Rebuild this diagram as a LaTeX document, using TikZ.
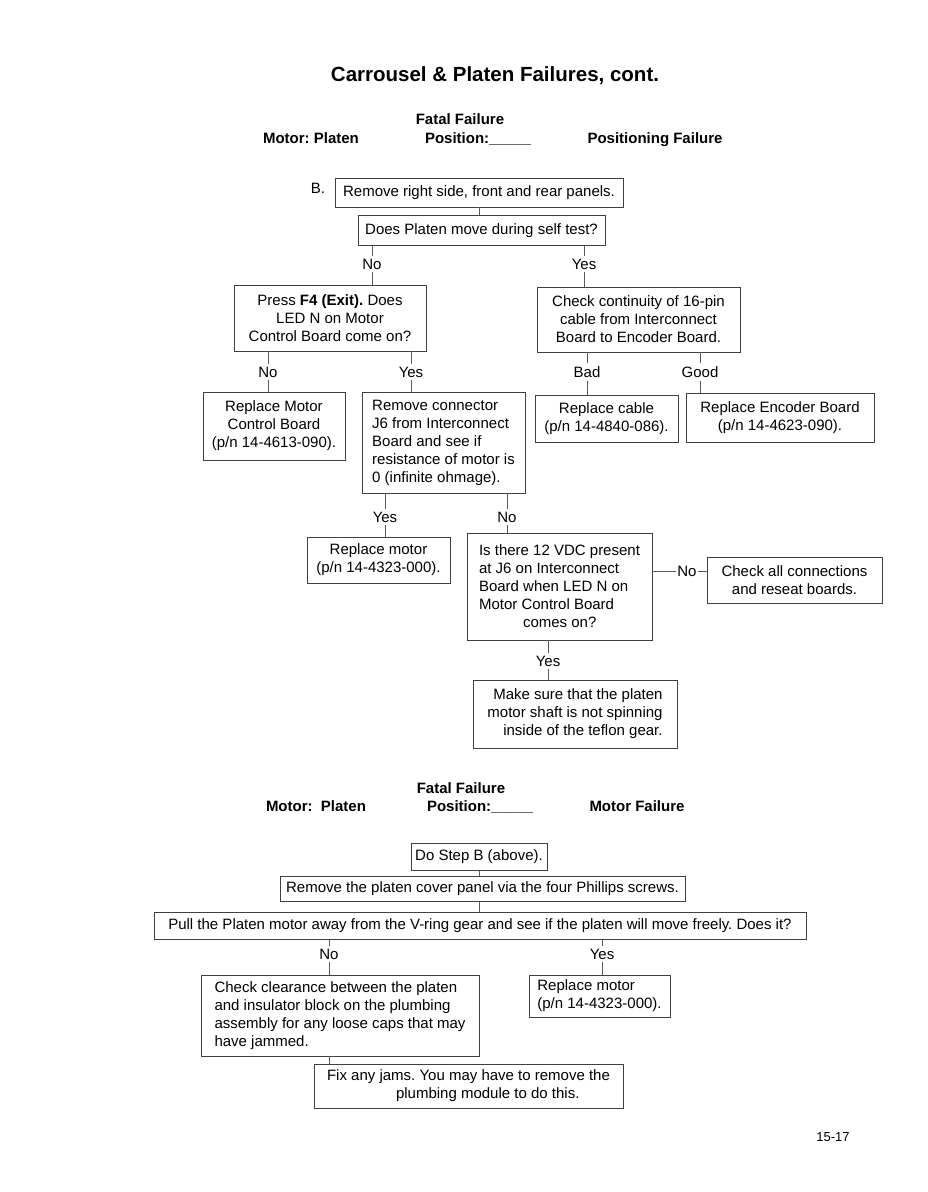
\documentclass[tikz,border=0pt]{standalone}
\usepackage{fontspec}
\setmainfont{Liberation Sans}
\frenchspacing
\begin{document}
\begin{tikzpicture}[x=1pt,y=-1pt,
  font=\fontsize{15}{18}\selectfont,
  box/.style={draw=black!75, line width=0.6pt, inner sep=0pt},
  lab/.style={inner sep=3pt},
  ln/.style={draw=black!65, line width=0.5pt},
  hdr/.style={font=\fontsize{15}{18}\selectfont\bfseries, inner sep=0pt, anchor=base}]
\useasboundingbox[fill=white] (0,0) rectangle (928,1192);

% ---------- header 1
\node[font=\fontsize{20.5}{24}\selectfont\bfseries, anchor=base, inner sep=0pt] (title) at (495,81.5) {Carrousel \& Platen Failures, cont.};
\node[hdr] (ff1) at (460,124.5) {Fatal Failure};
\node[hdr] (mp1) at (311,143.5) {Motor: Platen};
\node[hdr] (pos1) at (478,143.5) {Position:\_\_\_\_\_};
\node[hdr] (pf1) at (655,143.5) {Positioning Failure};

% ---------- section B
\node[inner sep=0pt] (bl) at (318,188) {B.};
\node[box, minimum width=288pt, minimum height=29pt] (b1) at (479,192.5) {Remove right side, front and rear panels.};
\node[box, minimum width=247pt, minimum height=30pt] (b2) at (481.5,230.5) {Does Platen move during self test?};

\node[lab] (n1) at (372,264) {No};
\node[lab] (y1) at (584,264) {Yes};

\node[box, minimum width=192pt, minimum height=66pt, align=center] (b3) at (330,318)
  {Press \textbf{F4 (Exit).} Does\\LED N on Motor\\Control Board come on?};
\node[box, minimum width=203pt, minimum height=65pt, align=center] (b4) at (638.5,319.5)
  {Check continuity of 16-pin\\cable from Interconnect\\Board to Encoder Board.};

\node[lab] (n2) at (268,372) {No};
\node[lab] (y2) at (411,372) {Yes};
\node[lab] (bad) at (587,372) {Bad};
\node[lab] (good) at (700,372) {Good};

\node[box, minimum width=142pt, minimum height=68pt, align=center] (b5) at (274,426)
  {Replace Motor\\Control Board\\(p/n 14-4613-090).};
\node[box, minimum width=163pt, minimum height=101pt, align=left] (b6) at (443.5,442.5)
  {Remove connector\\J6 from Interconnect\\Board and see if\\resistance of motor is\\0 (infinite ohmage).};
\node[box, minimum width=143pt, minimum height=47pt, align=center] (b7) at (606.5,418.5)
  {Replace cable\\(p/n 14-4840-086).};
\node[box, minimum width=188pt, minimum height=49pt, align=center] (b8) at (780,417.5)
  {Replace Encoder Board\\(p/n 14-4623-090).};

\node[lab] (y3) at (385,517) {Yes};
\node[lab] (n3) at (507,517) {No};

\node[box, minimum width=143pt, minimum height=46pt, align=center] (b9) at (378.5,560)
  {Replace motor\\(p/n 14-4323-000).};
\node[box, minimum width=185pt, minimum height=107pt, align=left] (b10) at (559.5,586.5)
  {Is there 12 VDC present\\at J6 on Interconnect\\Board when LED N on\\Motor Control Board\\\hspace*{44pt}comes on?};
\node[lab, inner sep=1pt] (n4) at (687,571) {No};
\node[box, minimum width=175pt, minimum height=46pt, align=center] (b11) at (794.5,580)
  {Check all connections\\and reseat boards.};

\node[lab] (y4) at (548,661) {Yes};
\node[box, minimum width=204pt, minimum height=68pt, align=right] (b12) at (575,714)
  {Make sure that the platen\\motor shaft is not spinning\\inside of the teflon gear.};

% ---------- header 2
\node[hdr] (ff2) at (461,793.5) {Fatal Failure};
\node[hdr] (mp2) at (316,811.5) {Motor:\ \ Platen};
\node[hdr] (pos2) at (480,811.5) {Position:\_\_\_\_\_};
\node[hdr] (mf2) at (637,811.5) {Motor Failure};

% ---------- motor failure chart
\node[box, minimum width=136pt, minimum height=27pt] (b13) at (479,857) {Do Step B (above).};
\node[box, minimum width=405pt, minimum height=25pt] (b14) at (482.5,889) {Remove the platen cover panel via the four Phillips screws.};
\node[box, minimum width=652pt, minimum height=27pt] (b15) at (480,926) {Pull the Platen motor away from the V-ring gear and see if the platen will move freely. Does it?};

\node[lab] (n5) at (329,954) {No};
\node[lab] (y5) at (602,954) {Yes};

\node[box, minimum width=278pt, minimum height=81pt, align=left] (b16) at (340,1015.5)
  {Check clearance between the platen\\and insulator block on the plumbing\\assembly for any loose caps that may\\have jammed.};
\node[box, minimum width=141pt, minimum height=42pt, align=left] (b17) at (599.5,996)
  {Replace motor\\(p/n 14-4323-000).};
\node[box, minimum width=309pt, minimum height=44pt, align=left] (b18) at (468.5,1086)
  {Fix any jams. You may have to remove the\\\hspace*{69pt}plumbing module to do this.};

\node[font=\fontsize{13}{15}\selectfont] (pg) at (833,1137) {15-17};

% ---------- connectors
\draw[ln] (b1.south) -- (b2.north -| b1.south);
\draw[ln] (b2.south -| n1) -- (n1.north);
\draw[ln] (n1.south) -- (b3.north -| n1);
\draw[ln] (b2.south -| y1) -- (y1.north);
\draw[ln] (y1.south) -- (b4.north -| y1);
\draw[ln] (b3.south -| n2) -- (n2.north);
\draw[ln] (n2.south) -- (b5.north -| n2);
\draw[ln] (b3.south -| y2) -- (y2.north);
\draw[ln] (y2.south) -- (b6.north -| y2);
\draw[ln] (b4.south -| bad) -- (bad.north);
\draw[ln] (bad.south) -- (b7.north -| bad);
\draw[ln] (b4.south -| good) -- (good.north);
\draw[ln] (good.south) -- (b8.north -| good);
\draw[ln] (b6.south -| y3) -- (y3.north);
\draw[ln] (y3.south) -- (b9.north -| y3);
\draw[ln] (b6.south -| n3) -- (n3.north);
\draw[ln] (n3.south) -- (b10.north -| n3);
\draw[ln] (b10.east |- n4) -- (n4.west);
\draw[ln] (n4.east) -- (b11.west |- n4);
\draw[ln] (b10.south -| y4) -- (y4.north);
\draw[ln] (y4.south) -- (b12.north -| y4);
\draw[ln] (b13.south) -- (b14.north -| b13);
\draw[ln] (b14.south -| b13) -- (b15.north -| b13);
\draw[ln] (b15.south -| n5) -- (n5.north);
\draw[ln] (n5.south) -- (b16.north -| n5);
\draw[ln] (b15.south -| y5) -- (y5.north);
\draw[ln] (y5.south) -- (b17.north -| y5);
\draw[ln] (b16.south -| n5) -- (b18.north -| n5);
\end{tikzpicture}
\end{document}
